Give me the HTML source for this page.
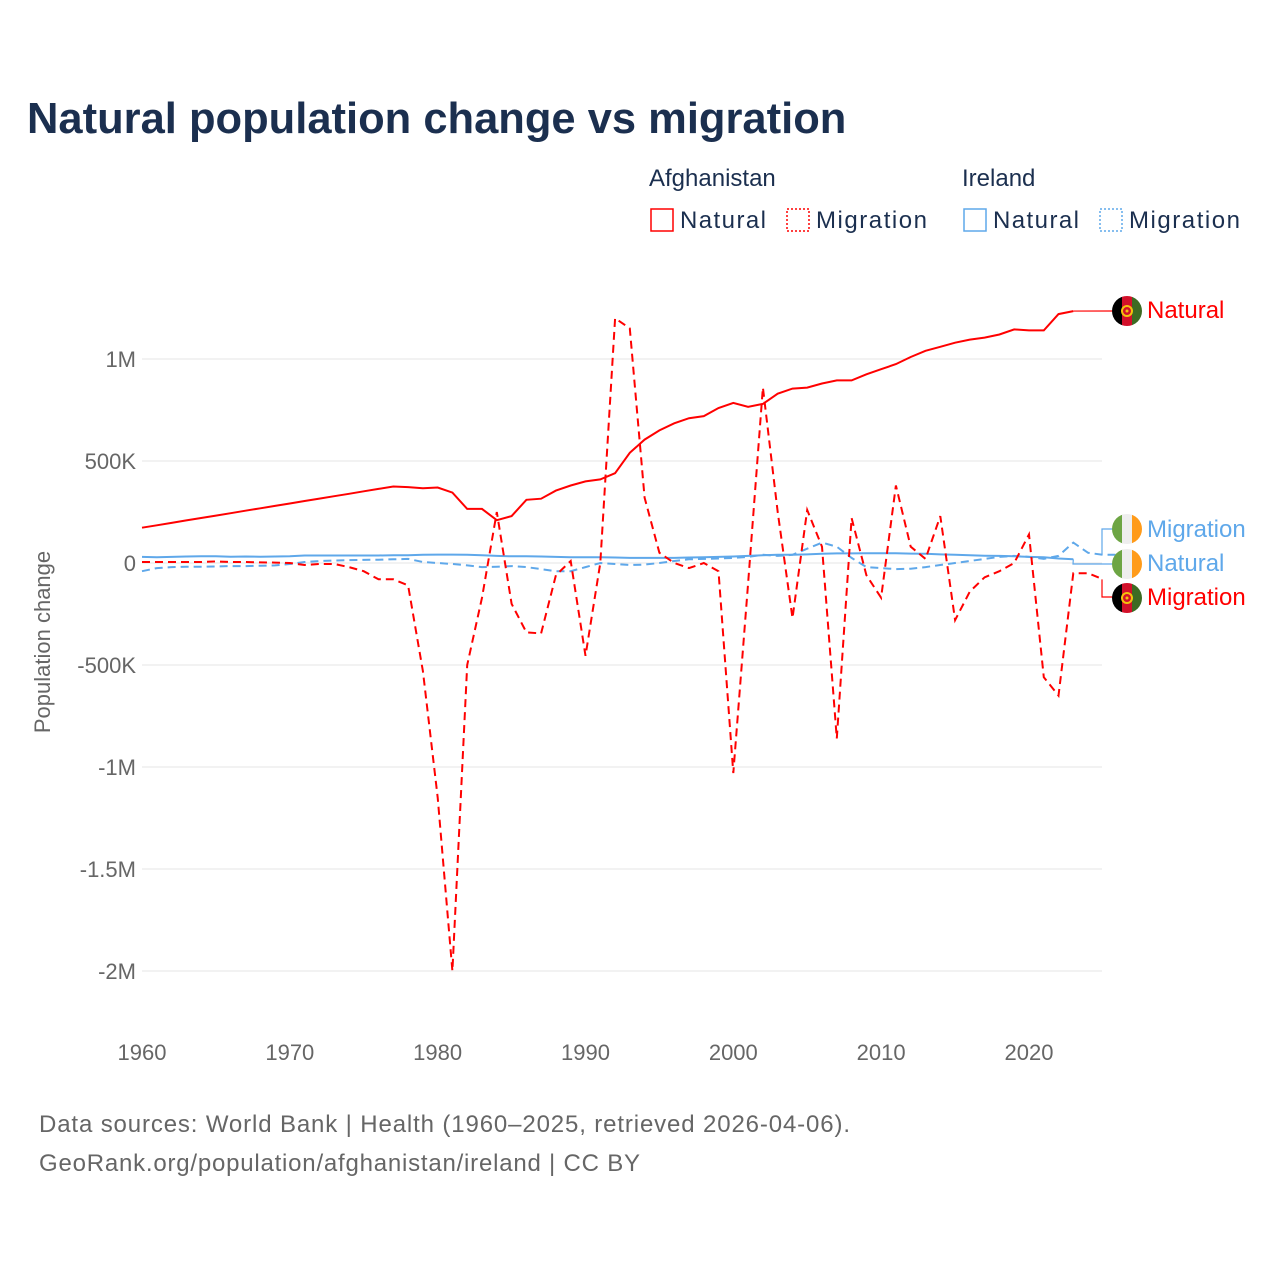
<!DOCTYPE html>
<html><head><meta charset="utf-8"><style>
body{margin:0;background:#fff;width:1280px;height:1280px;overflow:hidden;font-family:"Liberation Sans",sans-serif}
</style></head><body>
<svg id="s" width="1280" height="1280" xmlns="http://www.w3.org/2000/svg" font-family="Liberation Sans, sans-serif">
<text x="27" y="133" font-size="43.5" font-weight="bold" fill="#1b2f4f">Natural population change vs migration</text>
<text x="649" y="186" font-size="24" fill="#1b2f4f">Afghanistan</text>
<text x="962" y="186" font-size="24" fill="#1b2f4f">Ireland</text>
<rect x="651" y="209" width="22" height="22" fill="none" stroke="#f00" stroke-width="1.5"/>
<text x="680" y="228" font-size="24" fill="#1b2f4f" textLength="86">Natural</text>
<rect x="787" y="209" width="22" height="22" fill="none" stroke="#f00" stroke-width="1.5" stroke-dasharray="2,2"/>
<text x="816" y="228" font-size="24" fill="#1b2f4f" textLength="111">Migration</text>
<rect x="964" y="209" width="22" height="22" fill="none" stroke="#5fa8ea" stroke-width="1.5"/>
<text x="993" y="228" font-size="24" fill="#1b2f4f" textLength="86">Natural</text>
<rect x="1100" y="209" width="22" height="22" fill="none" stroke="#5fa8ea" stroke-width="1.5" stroke-dasharray="2,2"/>
<text x="1129" y="228" font-size="24" fill="#1b2f4f" textLength="111">Migration</text>
<g id="grid" stroke="#e4e4e4" stroke-width="1"></g>
<g font-size="22" fill="#666" text-anchor="end" id="yl"></g>
<g font-size="22" fill="#666" text-anchor="middle" id="xl"></g>
<text transform="translate(50,642) rotate(-90)" font-size="22" fill="#666" text-anchor="middle">Population change</text>
<g id="lines" fill="none" stroke-width="2"></g>
<g font-size="24">
<text x="1147" y="318" fill="#f00">Natural</text>
<text x="1147" y="537" fill="#5fa8ea">Migration</text>
<text x="1147" y="571" fill="#5fa8ea">Natural</text>
<text x="1147" y="605" fill="#f00">Migration</text>
</g>
<g id="flags"></g>
<text x="39" y="1132" font-size="24" fill="#666" textLength="811">Data sources: World Bank | Health (1960–2025, retrieved 2026-04-06).</text>
<text x="39" y="1171" font-size="24" fill="#666" textLength="601">GeoRank.org/population/afghanistan/ireland | CC BY</text>
</svg>
<script>
const NS="http://www.w3.org/2000/svg";
const X=y=>142+(y-1960)*14.783, Y=v=>563-v*0.204;
function el(p,t,a,txt){const e=document.createElementNS(NS,t);for(const k in a)e.setAttribute(k,a[k]);if(txt)e.textContent=txt;document.getElementById(p).appendChild(e);return e;}
[[1000,"1M"],[500,"500K"],[0,"0"],[-500,"-500K"],[-1000,"-1M"],[-1500,"-1.5M"],[-2000,"-2M"]].forEach(([v,l])=>{
 el("grid","line",{x1:142,x2:1102,y1:Y(v),y2:Y(v)});
 el("yl","text",{x:136,y:Y(v)+8},l);});
for(let y=1960;y<=2020;y+=10)el("xl","text",{x:X(y),y:1060},y);
const an=[173,178,184,190,196,203,210,217,225,233,241,250,259,268,279,290,300,375,372,366,370,345,265,265,210,230,310,315,355,380,400,410,440,540,605,650,685,710,720,760,785,765,780,830,855,860,880,895,895,925,950,975,1010,1040,1060,1080,1095,1105,1120,1145,1140,1140,1220,1235];
for(let i=0;i<=17;i++)an[i]=173+i*(375-173)/17;
const am=[5,5,5,5,5,8,5,5,3,2,0,-10,-5,-5,-20,-40,-80,-80,-110,-530,-1150,-2000,-500,-170,250,-200,-340,-345,-60,10,-455,0,1200,1150,320,50,0,-25,0,-40,-1030,-100,860,250,-270,260,80,-860,220,-60,-170,380,80,20,230,-280,-140,-70,-40,0,140,-560,-650,-50,-50,-80];
const inat=[30,28,30,32,33,33,31,32,31,32,33,37,37,37,37,37,37,38,38,40,41,41,40,38,35,33,33,32,30,28,28,28,27,25,25,25,25,27,28,30,32,35,38,40,40,42,45,47,47,48,48,48,46,45,42,40,38,36,35,33,30,28,22,18];
const imig=[-40,-25,-20,-18,-18,-17,-15,-15,-13,-12,-5,5,10,12,14,15,16,18,20,5,0,-5,-12,-20,-18,-15,-20,-30,-40,-40,-20,0,-5,-10,-8,0,10,18,20,22,25,30,40,35,40,70,100,80,25,-20,-25,-30,-28,-20,-10,0,10,20,30,35,30,20,35,100,50,40,40];
function pl(d,c,dash){el("lines","polyline",{points:d.map((v,i)=>X(1960+i).toFixed(1)+","+Y(v).toFixed(1)).join(" "),stroke:c,"stroke-dasharray":dash||"none"});}
pl(imig,"#5fa8ea","8,5");pl(inat,"#5fa8ea");pl(am,"#f00","8,5");pl(an,"#f00");
el("lines","polyline",{points:`${X(2023)},${Y(1235)} 1113,311`,stroke:"#f00","stroke-width":1.2});
el("lines","polyline",{points:`1102,${Y(40)} 1102,529 1113,529`,stroke:"#5fa8ea","stroke-width":1.2});
el("lines","polyline",{points:`${X(2023)},${Y(18)} 1073,564 1113,564`,stroke:"#5fa8ea","stroke-width":1.2});
el("lines","polyline",{points:`1102,${Y(-80)} 1102,597 1113,597`,stroke:"#f00","stroke-width":1.2});
function flag(cy,cols,emb){const id="c"+cy;el("flags","clipPath",{id});el(id,"circle",{cx:1127,cy,r:15});
 cols.forEach((c,i)=>el("flags","rect",{x:1112+i*10,y:cy-15,width:10.5,height:30,fill:c,"clip-path":`url(#${id})`}));
 if(emb){el("flags","circle",{cx:1127,cy,r:5,fill:"none",stroke:"#f4c20d","stroke-width":2});el("flags","circle",{cx:1127,cy,r:1.5,fill:"#f4c20d"});}}
flag(311,["#000","#d2102a","#3d6b23"],1);flag(529,["#6da544","#eee","#ff9b1a"]);flag(564,["#6da544","#eee","#ff9b1a"]);flag(598,["#000","#d2102a","#3d6b23"],1);
</script>
</body></html>
